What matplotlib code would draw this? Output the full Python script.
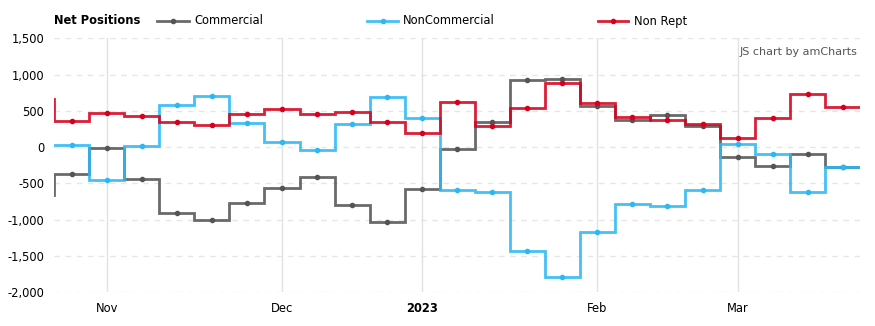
import matplotlib
matplotlib.use("Agg")
import matplotlib.pyplot as plt
from matplotlib.lines import Line2D
import numpy as np
import datetime as dt

dates = ["2022-10-18", "2022-10-25", "2022-11-01", "2022-11-08", "2022-11-15", "2022-11-22",
         "2022-11-29", "2022-12-06", "2022-12-13", "2022-12-20", "2022-12-27", "2023-01-03",
         "2023-01-10", "2023-01-17", "2023-01-24", "2023-01-31", "2023-02-07", "2023-02-14",
         "2023-02-21", "2023-02-28", "2023-03-07", "2023-03-14", "2023-03-21", "2023-03-28"]

commercial = [-663, -365, -5, -438, -902, -999, -764, -558, -406, -792, -1026, -572,
              -25, 351, 922, 936, 568, 379, 448, 292, -139, -263, -90, -269]
noncommercial = [35, 35, -447, 21, 586, 706, 338, 76, -34, 324, 696, 398,
                 -586, -617, -1426, -1784, -1164, -778, -806, -590, 48, -90, -617, -269]
nonrept = [660, 365, 475, 434, 351, 310, 462, 522, 462, 489, 351, 200,
           627, 296, 536, 889, 613, 420, 379, 324, 123, 398, 737, 558]

series_names = ["Commercial", "NonCommercial", "Non Rept"]
series_values = [commercial, noncommercial, nonrept]
series_colors = ["#555555", "#2bb8f3", "#d6001c"]

yticks = [-2000, -1500, -1000, -500, 0, 500, 1000, 1500]

W, H = 875, 326
fig = plt.figure(figsize=(W / 100, H / 100), dpi=100)
ax = fig.add_axes([54.2 / W, 1 - 292.3 / H, (860.2 - 54.2) / W, (292.3 - 38.3) / H])

n = len(dates)
x = np.arange(n)
edges = np.arange(n + 1) - 0.5

for name, vals, col in zip(series_names, series_values, series_colors):
    ax.stairs(vals, edges, baseline=None, color=col, lw=2.0, alpha=0.88, zorder=3)
    ax.plot(x, vals, 'o', color=col, ms=3.0, zorder=4, clip_on=True)

ax.set_xlim(0.5, n - 0.5)
ax.set_ylim(-2000, 1500)

# month ticks at first data point of each month
parsed = [dt.date.fromisoformat(d) for d in dates]
tick_pos, tick_lab = [], []
for i in range(1, n):
    if parsed[i].month != parsed[i - 1].month:
        tick_pos.append(i)
        tick_lab.append(str(parsed[i].year) if parsed[i].month == 1 else parsed[i].strftime("%b"))
ax.set_xticks(tick_pos)
ax.set_xticklabels(tick_lab)
for t, lab in zip(ax.get_xticklabels(), tick_lab):
    if lab.isdigit():
        t.set_fontweight("bold")

ax.set_yticks(yticks)
ax.set_yticklabels([f"{v:,}" for v in yticks])
ax.tick_params(axis="both", length=0, labelsize=8.3, colors="#000000")
ax.tick_params(axis="y", pad=7)
ax.tick_params(axis="x", pad=7)

for s in ax.spines.values():
    s.set_visible(False)

for v in yticks:
    ax.axhline(v, color="#e6e6e6", lw=1, dashes=(4, 4), zorder=1)
for p in tick_pos:
    ax.axvline(p, color="#e2e2e2", lw=1, zorder=1)

# legend (manual)
def fx(px):
    return px / W

def fy(py):
    return 1 - py / H

fig.text(fx(54), fy(21), "Net Positions", fontsize=8.3, fontweight="bold", va="center", ha="left")
legend_items = [(157, 189, 194), (367, 398, 403), (598, 628, 634)]
for (x0, x1, tx), name, col in zip(legend_items, series_names, series_colors):
    fig.add_artist(Line2D([fx(x0), fx(x1)], [fy(21), fy(21)], color=col, lw=2.0, alpha=0.88,
                          transform=fig.transFigure))
    fig.add_artist(Line2D([fx((x0 + x1) / 2)], [fy(21)], marker='o', ms=3.0, color=col,
                          transform=fig.transFigure))
    fig.text(fx(tx), fy(21), name, fontsize=8.3, va="center", ha="left")

fig.text(fx(857), fy(52), "JS chart by amCharts", fontsize=8, color="#555555", ha="right", va="center")

fig.savefig("out.png", dpi=100)
